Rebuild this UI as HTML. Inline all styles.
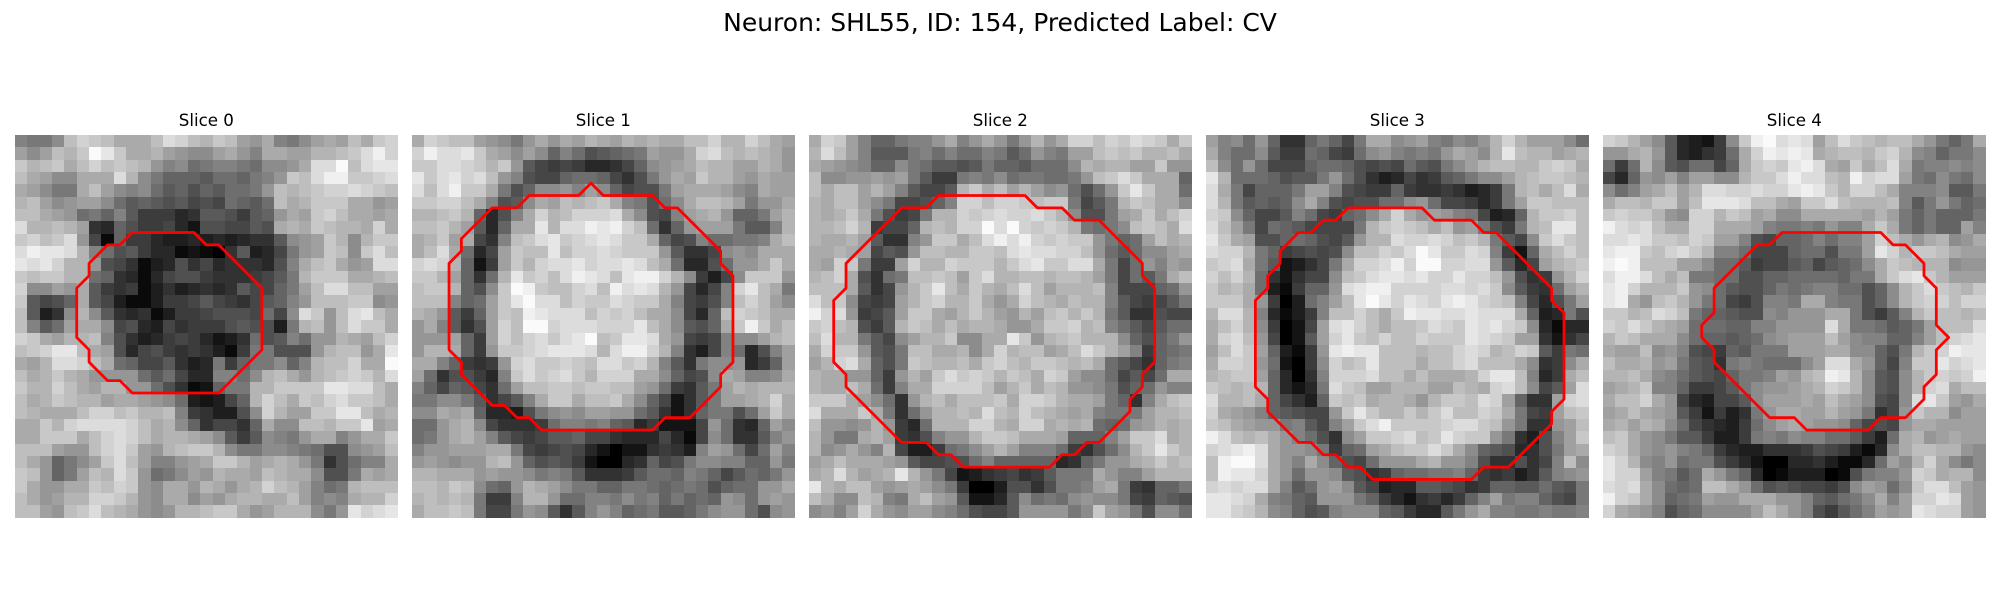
<!DOCTYPE html>
<html lang="en">
<head>
<meta charset="utf-8">
<title>Neuron slices</title>
<style>
html,body{margin:0;padding:0;background:#fff;width:2000px;height:600px;overflow:hidden}
svg{display:block}
text{font-family:"DejaVu Sans",sans-serif;fill:#000}
</style>
</head>
<body>
<svg id="figure" width="2000" height="600" viewBox="0 0 2000 600" xmlns="http://www.w3.org/2000/svg">
<rect x="0" y="0" width="2000" height="600" fill="#fff"/>
<text x="1000" y="31" font-size="25" text-anchor="middle">Neuron: SHL55, ID: 154, Predicted Label: CV</text>
</svg>
<script>
const sliceTitles = ["Slice 0","Slice 1","Slice 2","Slice 3","Slice 4"];

const slice0 = [
[13,12,12,14,19,21,20,19,17,17,17,19,22,21,19,18,20,19,16,15,17,13,12,14,16,17,16,19,17,20,21],
[16,14,16,19,18,20,25,23,20,17,17,18,16,15,14,14,16,17,15,13,17,17,16,16,18,18,19,20,22,24,21],
[20,18,19,20,17,19,21,19,20,19,18,15,13,14,11,12,13,13,12,11,14,14,15,17,22,22,25,19,22,23,23],
[19,17,16,14,14,17,17,17,22,18,14,12,10,10,10,9,11,11,10,12,13,15,20,19,22,24,24,20,20,21,22],
[17,16,14,12,12,17,19,16,14,13,14,11,9,10,8,10,9,11,11,12,15,19,18,19,20,21,21,22,21,20,19],
[18,19,16,14,15,16,16,14,11,9,10,9,8,9,7,8,7,11,10,9,11,19,17,18,20,20,20,17,17,15,16],
[19,19,17,16,15,11,12,10,13,9,6,6,6,4,5,9,9,8,6,9,10,15,17,16,20,21,19,17,17,16,17],
[22,18,18,19,18,16,5,4,10,8,6,6,7,4,2,8,8,7,7,9,8,17,18,17,20,19,18,18,17,21,17],
[20,21,19,20,22,15,7,1,10,6,6,4,3,3,4,3,4,3,4,5,5,9,14,15,16,20,18,14,18,20,20],
[22,24,23,23,22,18,13,11,8,9,6,4,4,1,2,1,0,5,9,3,4,7,12,15,16,20,19,14,20,22,19],
[23,22,23,21,18,18,15,8,7,5,1,3,4,8,5,7,4,5,5,5,4,8,13,17,19,20,17,15,16,22,22],
[20,19,20,20,18,18,11,10,5,4,1,4,7,8,8,6,5,5,5,6,7,9,12,18,20,20,20,17,17,18,19],
[21,14,14,16,15,17,9,6,5,6,1,3,5,3,4,5,4,5,9,7,7,10,12,16,19,22,22,19,19,16,16],
[20,9,7,8,10,17,9,7,3,1,1,3,6,6,7,9,7,6,5,7,9,10,13,15,19,19,19,20,20,14,15],
[19,9,3,5,14,18,14,9,5,4,5,1,3,6,6,7,8,8,8,7,11,7,14,22,20,15,19,22,23,19,17],
[19,13,9,11,16,17,17,14,7,8,4,3,7,5,6,6,6,8,9,8,8,3,12,18,19,15,19,22,20,20,17],
[21,20,17,16,18,18,19,13,8,5,3,4,6,7,6,4,2,3,5,11,8,9,13,11,15,15,18,17,16,19,21],
[19,20,21,23,23,19,17,16,8,4,7,8,6,5,6,5,3,1,6,12,12,8,8,8,15,18,19,19,15,17,23],
[17,16,18,22,22,21,19,17,11,10,7,7,9,5,3,4,12,6,10,12,12,14,10,13,18,19,19,21,17,17,25],
[19,17,18,20,18,17,15,15,15,15,11,9,11,7,4,4,13,13,11,14,18,19,17,15,18,19,20,21,20,18,22],
[20,18,18,21,19,17,16,18,18,15,15,11,8,5,1,2,10,12,12,18,18,20,20,20,20,23,23,22,22,19,17],
[19,17,18,20,19,18,18,16,17,17,16,15,14,11,3,2,3,7,10,18,21,19,17,20,19,21,22,20,20,19,17],
[19,18,17,17,17,19,21,21,19,20,18,18,19,13,6,5,3,3,8,14,21,18,16,16,20,20,23,23,19,17,18],
[17,17,20,18,21,22,22,22,22,21,19,17,18,14,10,5,7,7,5,10,17,14,14,19,19,18,20,20,23,16,17],
[17,17,20,20,20,17,19,21,22,21,19,17,18,18,17,16,14,9,6,9,14,13,12,15,17,17,13,15,17,17,20],
[19,19,19,16,15,15,19,21,22,20,16,15,18,19,20,20,18,14,12,12,14,14,13,12,11,8,8,14,15,16,19],
[19,17,15,10,12,14,16,20,22,19,16,13,13,15,16,17,20,20,18,16,17,18,17,15,12,5,8,11,13,13,17],
[20,19,15,10,12,16,19,18,22,20,15,11,12,14,16,15,18,17,17,16,19,18,17,17,14,8,8,12,17,16,17],
[20,17,15,15,17,17,20,19,21,20,15,14,17,17,15,18,17,15,17,18,21,19,18,16,13,11,12,18,19,19,19],
[19,17,15,16,18,18,21,21,20,18,15,14,17,17,14,16,15,17,18,18,17,17,19,16,13,14,13,17,18,18,21],
[19,19,16,15,19,20,22,19,18,17,15,14,15,18,18,19,20,20,17,15,16,18,18,18,14,12,15,23,21,22,23]
];

const slice1 = [
[17,21,20,19,19,16,15,14,12,15,17,15,17,16,18,17,16,18,17,18,17,17,19,19,21,18,18,21,19,17,16],
[21,24,22,22,23,20,17,16,14,16,14,10,13,11,8,9,10,11,12,16,15,15,17,21,22,19,18,19,18,17,15],
[20,20,22,22,21,20,18,20,15,9,7,6,7,6,4,4,5,7,10,14,15,16,17,19,18,18,16,16,18,17,15],
[23,20,22,23,21,22,19,15,13,8,7,7,10,11,11,10,7,5,8,12,15,17,16,20,18,18,16,15,17,16,16],
[22,19,22,24,20,20,17,12,8,10,14,14,15,13,16,14,10,7,8,8,12,16,17,17,17,16,14,13,17,16,16],
[20,20,21,21,19,17,13,8,9,14,17,16,19,18,19,20,17,13,12,8,11,14,17,19,19,18,16,12,15,15,17],
[18,18,19,20,18,10,4,8,13,17,21,18,19,21,21,21,22,17,14,8,7,13,16,17,18,15,10,10,12,16,18],
[19,19,20,18,16,9,4,10,17,17,23,18,22,22,24,23,24,21,19,11,5,10,15,16,16,16,12,9,9,13,18],
[17,18,20,16,17,7,5,13,19,20,22,23,20,21,22,23,22,20,20,17,10,7,8,13,11,11,12,12,13,17,19],
[17,19,22,17,11,4,7,16,20,19,19,23,19,21,21,22,21,20,20,20,15,9,5,5,7,14,15,14,17,17,17],
[21,22,21,18,10,2,6,16,20,18,21,22,22,23,21,22,22,23,22,19,17,11,4,4,8,11,15,15,17,20,17],
[20,20,18,16,10,5,11,18,23,20,21,19,22,24,23,22,19,23,24,24,21,18,14,6,3,7,14,20,20,20,15],
[19,20,20,18,10,8,14,20,25,24,20,19,19,21,22,19,24,22,23,22,18,15,7,4,7,13,21,23,19,17,12],
[19,19,19,13,10,11,16,20,23,25,22,22,19,21,20,20,22,21,20,20,17,13,7,6,8,13,19,21,19,16,14],
[18,17,15,9,6,10,16,20,19,24,23,22,22,22,19,21,20,21,19,17,17,14,7,4,10,19,21,20,19,17,17],
[15,17,13,9,5,8,16,21,19,25,25,21,22,22,22,21,21,21,23,19,17,14,9,8,10,17,20,24,20,17,19],
[15,15,15,16,10,6,16,21,19,21,22,20,22,23,25,19,20,23,23,22,17,15,7,6,7,13,14,14,16,18,19],
[15,18,18,17,10,6,15,20,20,21,22,23,23,23,22,18,22,24,24,21,18,13,5,3,7,13,11,4,8,13,16],
[17,17,13,10,6,5,6,15,21,22,20,20,21,20,19,22,22,20,21,18,13,9,5,12,14,14,15,4,6,10,16],
[16,11,5,8,8,6,4,13,20,22,20,21,22,20,18,21,21,21,17,17,14,10,7,8,14,17,16,13,13,14,17],
[13,10,7,10,9,7,5,11,16,19,19,20,20,19,20,20,19,19,16,15,11,6,5,9,12,16,18,17,18,18,18],
[12,12,14,14,12,9,5,7,9,13,17,20,20,17,19,19,20,17,14,10,7,2,5,9,12,16,16,17,18,21,17],
[14,14,17,16,17,10,4,4,3,8,12,14,15,14,16,16,15,15,11,9,5,2,5,10,12,12,8,11,16,20,17],
[11,11,15,17,18,14,7,5,5,5,6,11,13,13,12,13,10,9,4,6,2,2,2,7,15,11,5,4,10,16,14],
[11,12,15,17,18,16,13,9,7,6,7,9,9,10,7,7,5,4,4,4,7,4,1,7,14,11,5,5,9,13,15],
[13,15,15,16,16,16,17,17,12,7,6,7,8,7,4,2,0,2,2,5,6,5,3,13,16,15,11,7,11,16,13],
[15,16,15,14,15,15,18,19,15,10,8,9,8,6,2,0,0,4,5,10,7,8,12,14,14,13,13,10,10,15,12],
[18,18,17,17,17,15,16,15,15,14,12,13,12,9,5,5,5,6,9,11,11,10,13,12,10,7,9,11,10,12,15],
[19,19,18,20,19,14,11,10,15,18,17,16,14,12,12,10,10,12,12,11,10,11,12,11,8,10,11,11,15,15,17],
[18,19,18,19,18,12,6,6,13,18,18,15,11,11,13,13,12,14,12,13,10,12,10,11,10,15,14,11,15,16,15],
[17,19,19,20,19,12,7,7,12,15,14,9,5,9,13,15,13,10,11,12,9,9,10,12,14,15,15,11,8,14,15]
];

const slice2 = [
[17,21,20,16,13,10,10,12,13,13,15,17,13,15,17,15,12,15,18,15,17,21,21,19,21,20,22,21,20,17,20],
[18,22,19,16,13,9,9,9,12,13,11,13,11,11,13,12,9,11,15,13,12,16,16,19,20,19,20,18,18,19,17],
[17,16,15,14,13,10,10,14,12,11,9,9,8,9,12,10,10,9,11,11,11,14,18,17,18,18,16,16,20,15,15],
[19,14,14,15,15,16,15,16,12,9,6,6,12,13,12,14,11,12,12,11,11,12,15,19,20,22,20,17,17,17,10],
[19,17,19,19,16,18,16,13,9,7,7,9,18,20,17,19,16,18,16,14,15,11,8,11,15,20,23,20,17,17,11],
[18,17,19,19,16,14,12,7,7,8,10,13,21,21,19,21,21,20,19,20,20,12,7,9,12,18,20,19,17,17,14],
[18,17,18,20,17,12,8,6,7,12,18,18,21,20,21,22,21,21,22,20,18,14,8,8,12,16,17,20,17,19,21],
[18,18,19,21,18,6,7,7,10,18,19,18,21,21,25,22,25,21,20,21,20,18,12,11,12,14,19,20,19,17,22],
[18,17,17,18,16,9,5,5,13,15,20,20,17,19,22,24,22,24,21,20,21,20,20,15,12,10,11,16,19,17,18],
[17,17,18,17,16,7,9,8,15,19,19,18,18,20,20,19,22,23,22,22,21,21,19,15,11,9,11,14,14,16,17],
[17,16,21,20,12,6,6,16,21,18,18,21,20,20,20,18,20,22,23,20,20,22,22,17,12,7,11,15,13,16,15],
[18,19,21,17,8,5,11,12,19,19,20,19,16,20,22,18,18,19,19,18,19,19,18,16,12,7,11,9,12,17,19],
[19,19,19,17,9,5,7,15,18,20,23,19,17,20,18,17,19,22,19,16,18,18,18,19,13,7,7,7,10,11,15],
[22,19,20,14,7,6,7,16,18,20,21,18,18,20,17,15,17,21,19,18,17,19,18,18,13,9,7,6,7,9,12],
[24,21,22,15,6,7,9,16,20,20,17,16,18,20,18,16,15,18,16,19,20,18,20,18,12,9,5,5,8,7,7],
[20,21,19,18,8,6,9,18,20,19,17,19,17,18,18,17,15,15,17,20,20,21,18,19,13,11,9,7,9,11,11],
[19,22,18,18,12,9,7,14,16,18,18,20,14,14,17,17,23,20,15,18,19,20,18,18,18,14,10,8,10,12,15],
[17,21,20,20,15,9,8,12,19,19,17,17,18,14,17,21,18,19,19,16,17,19,22,20,18,16,13,6,10,11,12],
[16,18,21,22,17,10,8,12,20,19,18,18,19,17,20,21,19,18,20,20,19,18,19,17,11,9,7,5,10,12,13],
[18,17,17,15,15,10,6,15,18,16,20,22,20,21,20,18,20,19,17,21,20,16,14,14,11,7,9,7,11,17,17],
[18,17,17,19,17,11,6,13,17,17,21,21,21,21,19,16,18,20,17,19,18,15,15,14,12,8,10,11,15,13,13],
[20,20,20,17,16,14,11,5,15,18,19,17,19,19,19,20,17,21,21,20,18,17,17,16,12,10,5,13,17,19,20],
[22,17,17,17,20,17,12,5,11,15,18,18,19,18,22,19,18,21,19,18,17,16,17,13,12,12,12,16,18,18,19],
[19,15,15,14,15,18,15,6,4,11,18,18,18,21,21,18,17,21,21,17,18,17,18,11,10,11,15,16,18,17,18],
[18,15,12,12,17,18,16,6,5,8,13,15,15,18,20,20,19,17,17,17,16,10,10,10,13,16,20,20,22,17,18],
[18,14,15,17,15,13,18,7,3,3,6,11,12,14,16,18,16,13,13,13,11,6,5,8,11,14,18,20,23,20,18],
[16,17,19,17,17,17,16,15,9,7,7,8,8,11,13,10,10,10,10,10,4,5,10,12,15,15,17,18,20,18,19],
[17,18,22,18,16,17,18,23,18,15,12,7,2,3,5,6,7,5,6,9,12,12,12,17,15,13,13,16,18,18,18],
[23,18,17,19,19,16,15,16,17,16,14,12,6,0,0,3,8,8,5,8,12,12,13,16,17,12,6,5,10,10,12],
[19,17,14,14,19,18,13,12,17,19,16,15,9,2,2,4,9,14,11,12,11,14,15,14,14,12,7,6,10,9,8],
[14,15,13,16,21,17,15,14,16,16,14,13,11,8,7,7,9,15,15,15,15,12,14,20,16,15,12,8,14,14,11]
];

const slice3 = [
[16,13,14,11,15,10,5,5,10,12,10,7,12,17,17,14,15,16,13,12,14,13,15,18,21,18,16,16,16,14,11],
[17,13,11,11,14,9,6,6,11,10,7,6,11,14,15,13,12,13,12,15,17,16,14,18,23,19,18,18,16,17,18],
[19,14,11,15,11,7,7,7,10,11,11,10,8,7,8,7,11,9,8,12,14,16,18,19,19,18,18,20,21,20,17],
[23,18,11,11,11,10,8,9,9,12,15,11,8,5,3,4,7,5,6,9,10,12,14,14,16,18,19,20,20,19,18],
[22,17,12,7,10,10,10,12,16,16,13,8,7,6,6,10,6,5,5,6,5,3,4,6,12,18,19,17,19,22,17],
[22,18,12,9,10,9,10,14,17,13,8,7,8,8,11,11,14,15,11,7,7,6,4,6,12,16,20,20,19,19,19],
[21,20,14,10,7,7,9,13,11,7,6,10,11,14,17,21,17,15,16,15,13,12,7,3,4,10,18,20,20,21,19],
[22,19,16,12,7,11,10,9,7,7,7,7,12,18,20,21,20,19,17,19,15,16,12,8,6,12,18,19,23,23,19],
[23,20,17,16,8,8,10,11,10,8,7,9,15,18,18,22,21,21,22,21,19,20,18,12,9,7,14,20,22,20,19],
[22,21,21,18,12,10,6,7,8,7,8,14,19,19,21,20,22,25,23,20,20,22,21,13,6,2,10,17,19,21,19],
[20,21,22,17,12,9,2,3,5,7,12,17,21,21,22,24,21,25,25,21,21,22,22,15,9,4,7,16,18,19,20],
[21,19,21,18,11,5,2,5,7,7,14,19,20,22,23,23,22,23,21,21,23,21,21,19,15,8,5,6,15,18,21],
[20,18,19,17,11,3,1,6,10,10,15,22,23,24,24,21,21,21,21,22,22,21,22,20,14,9,6,5,11,16,18],
[20,20,20,17,15,6,0,3,11,13,16,19,23,25,23,21,23,22,21,23,24,23,21,20,19,13,7,4,8,12,16],
[18,22,22,18,13,4,1,3,6,13,19,19,21,19,17,20,24,23,23,22,22,23,22,22,22,17,10,3,4,12,8],
[17,19,21,18,14,6,0,2,7,16,22,23,21,19,17,19,19,20,22,21,20,23,22,23,21,20,14,4,1,4,4],
[17,21,22,19,15,7,0,2,9,16,21,23,20,19,21,19,19,21,20,20,20,23,22,21,20,16,16,5,2,5,7],
[16,19,22,20,16,10,3,1,6,15,23,24,23,23,19,19,19,18,19,19,21,22,21,18,19,21,20,9,6,12,11],
[17,21,21,20,15,11,2,0,6,14,21,19,20,23,19,19,19,17,19,19,21,22,19,19,19,17,14,5,6,14,17],
[18,19,20,20,16,10,4,0,5,13,21,21,21,22,19,19,17,19,17,17,17,18,21,23,23,19,13,4,6,17,19],
[20,19,18,19,18,10,4,2,4,12,22,20,19,16,16,18,18,18,16,16,19,18,17,21,22,19,14,7,9,16,22],
[22,18,18,19,17,10,7,5,3,10,20,19,20,17,18,18,17,15,18,20,20,19,22,21,16,10,5,5,16,21,22],
[21,17,16,15,13,10,9,8,7,7,15,20,23,20,18,18,20,18,20,22,19,19,21,20,17,12,7,6,16,19,20],
[20,19,17,16,15,15,12,13,9,7,13,16,20,22,24,20,20,20,20,21,22,22,20,19,15,12,5,5,15,16,19],
[24,22,19,18,19,17,15,13,11,8,5,14,16,20,20,21,22,19,20,23,21,20,20,15,12,5,3,8,13,16,20],
[21,22,23,24,22,17,15,15,14,12,6,10,11,16,17,19,20,20,22,20,17,14,10,9,8,4,5,8,12,16,17],
[19,24,25,25,22,17,15,13,17,14,10,8,7,11,15,15,15,17,18,15,15,13,8,5,5,8,5,7,13,19,14],
[19,24,23,23,21,17,15,11,15,15,14,9,8,5,6,10,11,11,12,12,13,10,6,5,6,3,5,9,13,14,15],
[21,22,21,22,22,17,13,9,11,15,16,14,9,7,3,4,4,9,9,8,7,5,6,10,10,9,9,11,9,8,12],
[23,23,22,21,17,13,12,10,9,15,15,15,12,10,6,4,2,5,6,4,6,10,13,16,12,13,13,10,8,7,12],
[23,23,21,20,18,14,13,10,8,9,13,14,14,14,10,9,6,4,4,9,12,15,17,13,13,12,12,13,12,12,13]
];

const slice4 = [
[21,20,18,16,14,9,4,3,2,6,14,20,24,25,22,23,22,16,19,22,20,19,18,19,19,17,15,12,10,12,17],
[15,15,17,18,15,9,4,3,5,6,11,17,21,24,23,24,23,17,18,19,19,18,20,21,18,14,13,10,12,12,14],
[11,6,11,18,14,9,8,11,11,7,10,17,20,21,20,23,24,22,17,16,20,17,19,22,17,12,13,13,14,13,14],
[7,4,10,15,14,16,13,16,16,14,14,18,20,20,22,24,22,22,19,18,24,21,22,22,16,12,11,14,12,11,14],
[14,11,13,16,17,19,16,18,22,22,21,21,22,21,21,23,24,23,20,18,21,21,19,17,13,13,13,14,9,9,12],
[17,19,19,18,20,20,16,19,23,23,23,22,19,19,17,16,20,20,22,19,18,18,18,19,13,9,12,15,12,10,11],
[20,21,20,20,18,15,14,21,21,18,20,19,16,17,14,14,17,17,17,17,17,16,18,16,12,10,12,10,10,10,12],
[24,22,21,22,19,17,17,21,21,17,17,17,16,13,12,12,13,12,15,13,13,17,20,17,12,10,12,10,10,16,13],
[22,22,23,22,20,20,19,21,20,16,16,13,8,7,10,10,11,13,11,13,13,16,21,19,17,15,17,18,14,15,17],
[23,24,24,20,19,21,22,20,18,13,13,11,7,7,7,10,11,11,8,12,12,16,23,21,18,20,20,19,17,16,16],
[24,25,24,19,19,19,16,16,14,11,11,9,6,7,7,9,10,7,9,10,11,14,17,20,19,18,18,18,14,15,15],
[22,24,24,22,19,17,19,12,12,11,11,8,8,10,10,11,11,11,11,10,12,12,17,20,22,23,20,18,16,16,16],
[23,24,21,18,18,18,20,15,14,11,9,8,8,10,12,11,12,13,13,11,11,8,10,14,18,20,22,20,19,18,20],
[23,24,17,15,19,20,18,15,12,11,7,6,8,13,13,12,17,17,13,12,12,8,10,14,18,20,21,21,19,21,21],
[20,20,18,19,22,21,19,12,10,10,9,8,8,14,13,15,15,15,17,17,12,8,6,9,13,18,20,19,19,18,19],
[21,20,22,20,18,17,16,11,11,11,10,10,13,13,15,15,15,15,22,17,12,12,11,9,10,12,16,19,19,19,22],
[18,20,19,17,17,17,14,11,10,10,9,10,11,14,15,16,16,16,19,16,14,13,13,10,10,13,16,19,21,22,23],
[17,16,16,19,14,15,13,8,7,6,10,9,12,12,12,16,16,16,17,17,14,14,10,8,12,18,20,21,24,23,23],
[19,17,17,18,15,16,12,9,8,5,12,13,12,11,11,11,14,16,22,22,17,15,10,7,13,20,20,23,21,22,23],
[18,18,19,17,14,13,11,9,8,7,10,12,12,13,16,15,18,19,24,23,18,14,9,8,14,18,20,21,20,21,24],
[16,17,18,20,13,13,10,6,6,7,9,12,14,15,15,16,17,18,21,20,18,14,9,8,14,18,21,22,17,19,19],
[17,19,19,21,17,15,7,4,3,7,7,9,14,16,16,16,17,16,19,17,16,14,8,7,14,22,23,20,16,15,17],
[16,17,19,17,16,15,9,6,2,6,3,5,12,15,17,17,16,16,18,16,15,12,5,7,15,20,18,18,14,16,16],
[17,18,16,18,17,14,11,7,5,4,3,6,11,14,16,17,16,15,15,14,10,7,8,7,15,17,17,16,16,16,16],
[19,20,17,15,14,12,9,9,6,3,3,6,12,13,12,14,13,13,11,11,9,6,3,11,17,18,15,16,17,16,16],
[21,20,17,15,14,15,13,12,10,6,4,3,3,5,5,5,6,8,7,6,3,1,4,14,17,19,19,18,18,15,14],
[23,21,18,14,13,15,11,12,12,8,6,4,2,0,0,4,4,5,3,1,1,4,11,16,14,18,21,17,14,12,14],
[23,21,21,16,13,12,9,11,17,15,12,10,4,0,1,3,3,3,0,1,8,12,13,13,15,21,20,17,18,18,14],
[22,21,22,17,14,11,10,11,19,19,17,15,11,8,9,8,7,7,6,8,14,16,15,11,14,20,22,22,19,16,15],
[24,21,20,17,14,10,11,12,16,15,15,17,17,17,15,15,13,10,9,11,12,14,17,13,16,21,21,23,22,16,15],
[21,17,16,15,13,8,10,11,14,14,14,14,16,19,17,15,13,8,6,9,11,13,16,15,16,23,22,21,21,16,15]
];

const contour0 = [[9.5,7.9],[14.5,7.9],[15.5,8.9],[16.5,8.9],[20,12.4],[20,17.4],[16.5,20.9],[9.5,20.9],[8.5,19.9],[7.5,19.9],[6,18.4],[6,17.4],[5,16.4],[5,12.4],[6,11.4],[6,10.4],[7.5,8.9],[8.5,8.9]];
const contour1 = [[9.5,4.9],[13.5,4.9],[14.5,3.9],[15.5,4.9],[19.5,4.9],[20.5,5.9],[21.5,5.9],[25,9.4],[25,10.4],[26,11.4],[26,18.4],[25,19.4],[25,20.4],[22.5,22.9],[20.5,22.9],[19.5,23.9],[10.5,23.9],[9.5,22.9],[8.5,22.9],[7.5,21.9],[6.5,21.9],[4,19.4],[4,18.4],[3,17.4],[3,10.4],[4,9.4],[4,8.4],[6.5,5.9],[8.5,5.9]];
const contour2 = [[10.5,4.9],[17.5,4.9],[18.5,5.9],[20.5,5.9],[21.5,6.9],[23.5,6.9],[27,10.4],[27,11.4],[28,12.4],[28,18.4],[27,19.4],[27,20.4],[26,21.4],[26,22.4],[23.5,24.9],[22.5,24.9],[21.5,25.9],[20.5,25.9],[19.5,26.9],[12.5,26.9],[11.5,25.9],[10.5,25.9],[9.5,24.9],[7.5,24.9],[3,20.4],[3,19.4],[2,18.4],[2,13.4],[3,12.4],[3,10.4],[7.5,5.9],[9.5,5.9]];
const contour3 = [[11.5,5.9],[17.5,5.9],[18.5,6.9],[21.5,6.9],[22.5,7.9],[23.5,7.9],[28,12.4],[28,13.4],[29,14.4],[29,21.4],[28,22.4],[28,23.4],[24.5,26.9],[22.5,26.9],[21.5,27.9],[13.5,27.9],[12.5,26.9],[11.5,26.9],[10.5,25.9],[9.5,25.9],[8.5,24.9],[7.5,24.9],[5,22.4],[5,21.4],[4,20.4],[4,13.4],[5,12.4],[5,11.4],[6,10.4],[6,9.4],[7.5,7.9],[8.5,7.9],[9.5,6.9],[10.5,6.9]];
const contour4 = [[14.5,7.9],[22.5,7.9],[23.5,8.9],[24.5,8.9],[26,10.4],[26,11.4],[27,12.4],[27,15.4],[28,16.4],[27,17.4],[27,19.4],[26,20.4],[26,21.4],[24.5,22.9],[22.5,22.9],[21.5,23.9],[16.5,23.9],[15.5,22.9],[13.5,22.9],[9,18.4],[9,17.4],[8,16.4],[8,15.4],[9,14.4],[9,12.4],[12.5,8.9],[13.5,8.9]];

const sliceImages = [slice0, slice1, slice2, slice3, slice4];
const sliceContours = [contour0, contour1, contour2, contour3, contour4];

const SVG_NS = "http://www.w3.org/2000/svg";
const figure = document.getElementById("figure");
const panelTop = 135;
const panelSize = 382.7;
const panelStep = 397;
const panelStart = 15;
const gridCells = 31;
const maxValue = 25.5;

function panelLeft(i) { return panelStart + i * panelStep; }
function xAxis(i, u) { return panelLeft(i) + u * panelSize / gridCells; }
function yAxis(v) { return panelTop + v * panelSize / gridCells; }
function grayScale(value) {
  const level = Math.max(0, Math.min(255, Math.round(value / maxValue * 255)));
  return "rgb(" + level + "," + level + "," + level + ")";
}

sliceImages.forEach(function (image, i) {
  const group = document.createElementNS(SVG_NS, "g");
  
  
  figure.appendChild(group);

  const title = document.createElementNS(SVG_NS, "text");
  
  
  title.setAttribute("x", xAxis(i, gridCells / 2));
  title.setAttribute("y", 126);
  title.setAttribute("font-size", "16.67");
  title.setAttribute("text-anchor", "middle");
  title.textContent = sliceTitles[i];
  group.appendChild(title);

  const cells = document.createElementNS(SVG_NS, "g");
  
  
  cells.setAttribute("shape-rendering", "crispEdges");
  group.appendChild(cells);

  image.forEach(function (row, r) {
    row.forEach(function (value, c) {
      const cell = document.createElementNS(SVG_NS, "rect");
      
      
      const x0 = Math.round(xAxis(i, c));
      const x1 = Math.round(xAxis(i, c + 1));
      const y0 = Math.round(yAxis(r));
      const y1 = Math.round(yAxis(r + 1));
      cell.setAttribute("x", x0);
      cell.setAttribute("y", y0);
      cell.setAttribute("width", x1 - x0);
      cell.setAttribute("height", y1 - y0);
      cell.setAttribute("fill", grayScale(value));
      cells.appendChild(cell);
    });
  });

  const outline = document.createElementNS(SVG_NS, "polygon");
  
  
  outline.setAttribute("points", sliceContours[i].map(function (p) {
    return xAxis(i, p[0]).toFixed(2) + "," + yAxis(p[1]).toFixed(2);
  }).join(" "));
  outline.setAttribute("fill", "none");
  outline.setAttribute("stroke", "#ff0000");
  outline.setAttribute("stroke-width", "2.78");
  outline.setAttribute("stroke-linejoin", "round");
  group.appendChild(outline);
});
</script>
</body>
</html>
